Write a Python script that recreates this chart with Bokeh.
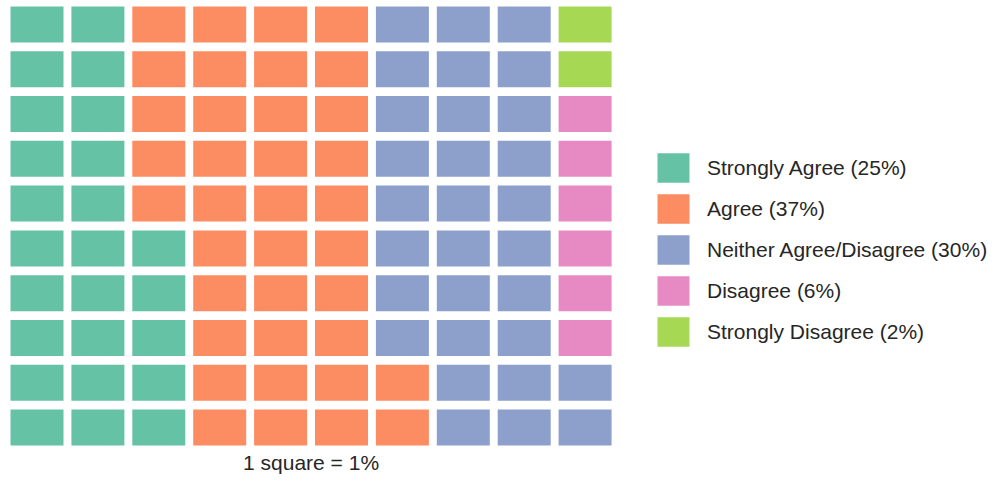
from bokeh.plotting import figure
from bokeh.models import ColumnDataSource, Range1d, Legend, LegendItem, Label
from bokeh.embed import file_html
from bokeh.resources import INLINE

# ---- data ----
categories = ["Strongly Agree", "Agree", "Neither Agree/Disagree", "Disagree", "Strongly Disagree"]
percentages = [25, 37, 30, 6, 2]
colors = ["#66c2a5", "#fc8d62", "#8da0cb", "#e78ac3", "#a6d854"]
n_cols = 10
n_rows = 10
caption = "1 square = 1%"

# ---- layout (pixels) ----
W, H = 988, 477
col_pitch, row_pitch = 60.9, 44.78
cell_w_px, cell_h_px = 53.0, 36.0
grid_left, grid_top = 10.0, 6.0
caption_center_px = 462.0

x_start = -(grid_left + cell_w_px / 2) / col_pitch
y_top = -(grid_top + cell_h_px / 2) / row_pitch

p = figure(width=W, height=H, output_backend="svg", toolbar_location=None,
           x_range=Range1d(x_start, x_start + W / col_pitch),
           y_range=Range1d(y_top + H / row_pitch, y_top),
           min_border=0, outline_line_color=None, background_fill_color="white",
           border_fill_color="white")
p.axis.visible = False
p.grid.visible = False

# waffle: fill column by column, bottom to top
cell_w = cell_w_px / col_pitch
cell_h = cell_h_px / row_pitch
k = 0
items = []
for cat, pct, col in zip(categories, percentages, colors):
    xs, ys = [], []
    for _ in range(pct):
        c = k // n_rows
        r = (n_rows - 1) - (k % n_rows)
        xs.append(c)
        ys.append(r)
        k += 1
    src = ColumnDataSource(dict(x=xs, y=ys))
    rr = p.rect(x="x", y="y", width=cell_w, height=cell_h, source=src,
                fill_color=col, line_color=None)
    items.append(LegendItem(label=f"{cat} ({pct}%)", renderers=[rr]))

legend = Legend(items=items, location=(653, 127), orientation="vertical",
                glyph_width=40, glyph_height=37, spacing=4, label_standoff=14,
                padding=0, margin=0, border_line_color=None,
                background_fill_alpha=0,
                label_text_font="Liberation Sans", label_text_font_size="21px",
                label_text_color="#262626", label_text_baseline="middle")
p.add_layout(legend, "center")

cap = Label(x=(n_cols - 1) / 2, y=y_top + caption_center_px / row_pitch,
            text=caption, text_align="center", text_baseline="middle",
            text_font="Liberation Sans", text_font_size="21px", text_color="#262626")
p.add_layout(cap)

open("out.html", "w").write(file_html(p, INLINE))
